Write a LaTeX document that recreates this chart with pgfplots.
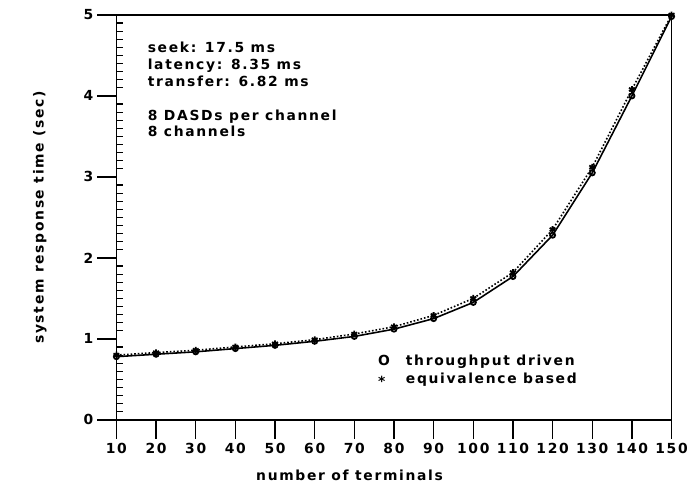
\documentclass[border=0pt]{standalone}
\usepackage{fontspec}
\setmainfont{DejaVu Sans}[LetterSpace=12]
\usepackage{pgfplots}
\pgfplotsset{compat=1.18}
\pgfplotsset{every axis/.append style={line width=1.8pt}}
\begin{document}
\begin{tikzpicture}
\begin{axis}[
    at={(0,0)}, anchor=south west,
    scale only axis,
    width=558bp, height=407bp,
    xmin=10, xmax=150, ymin=0, ymax=5,
    xtick={10,20,...,150},
    ytick={0,1,...,5},
    extra y ticks={0.1,0.2,0.3,0.4,0.5,0.6,0.7,0.8,0.9,1.1,1.2,1.3,1.4,1.5,1.6,1.7,1.8,1.9,
                   2.1,2.2,2.3,2.4,2.5,2.6,2.7,2.8,2.9,3.1,3.2,3.3,3.4,3.5,3.6,3.7,3.8,3.9,
                   4.1,4.2,4.3,4.4,4.5,4.6,4.7,4.8,4.9},
    extra y tick labels={},
    extra y tick style={tick align=inside, major tick length=7bp, tick style={line width=1.1pt}},
    ytick pos=left, xtick pos=bottom,
    tick align=outside,
    major tick length=19bp,
    tick style={black, line width=1.5pt},
    font=\fontsize{14}{17}\selectfont\bfseries,
    /pgf/number format/assume math mode=true,
    xlabel={number of terminals},
    ylabel={system response time (sec)},
    xlabel style={at={(axis description cs:0.42,-0.137)}, anchor=center},
    ylabel style={at={(axis description cs:-0.138,0.5)}, anchor=center},
]
% throughput driven
\addplot[black, line width=1.6pt, mark=o, mark size=2.6pt, mark options={solid, line width=1.8pt}] coordinates {
    (10,0.78) (20,0.81) (30,0.84) (40,0.88) (50,0.92) (60,0.97) (70,1.03)
    (80,1.12) (90,1.25) (100,1.45) (110,1.77) (120,2.28) (130,3.05) (140,4.00) (150,4.98)
};
% equivalence based
\addplot[black, line width=1.6pt, dotted, mark=asterisk, mark size=3.4pt, mark options={solid, line width=1.8pt}] coordinates {
    (10,0.80) (20,0.83) (30,0.86) (40,0.90) (50,0.94) (60,0.99) (70,1.06)
    (80,1.15) (90,1.29) (100,1.50) (110,1.82) (120,2.35) (130,3.12) (140,4.08) (150,5.00)
};
\node[anchor=north west, align=left, inner sep=0pt] at (rel axis cs:0.055,0.935)
    {seek: 17.5 ms\\latency: 8.35 ms\\transfer: 6.82 ms\\[17bp]8 DASDs per channel\\8 channels};
\node[anchor=north west, inner sep=0pt] at (rel axis cs:0.47,0.165)
    {\begin{tabular}{@{}l@{\hspace{16bp}}l@{}}O & throughput driven\\[1bp]\raisebox{-0.35ex}{*} & equivalence based\end{tabular}};
\end{axis}
\path (-117bp,-73bp) rectangle (574bp,422bp);
\end{tikzpicture}
\end{document}
